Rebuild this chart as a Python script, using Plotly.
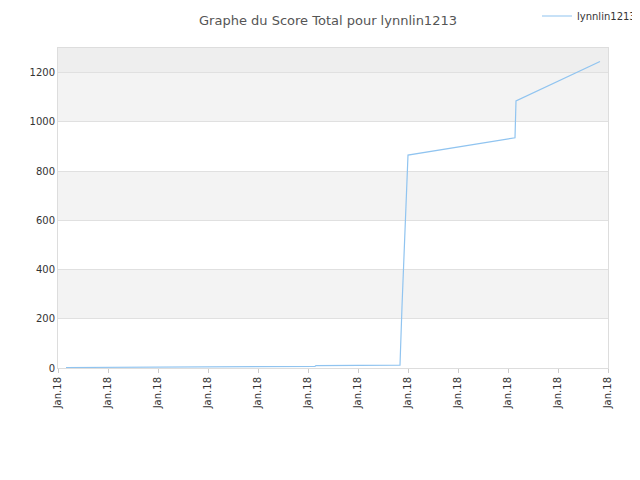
import plotly.graph_objects as go

# positions along the date axis (tick units), scores
x_pos = [0.16, 1.84, 1.86, 5.14, 5.16, 6.80, 6.84, 6.88, 7.00, 9.14, 9.16, 10.84]
score = [2, 3, 6, 7, 10, 11, 12, 250, 865, 935, 1085, 1245]
tick_labels = ["Jan.18"] * 12

fig = go.Figure()
fig.add_trace(go.Scatter(x=x_pos, y=score, mode="lines", name="lynnlin1213",
                         line=dict(color="#90c4f0", width=1.2)))

bands = [(200, 400, "#f3f3f3"), (600, 800, "#f3f3f3"),
         (1000, 1200, "#f3f3f3"), (1200, 1300, "#eeeeee")]
for y0, y1, c in bands:
    fig.add_shape(type="rect", xref="paper", x0=0, x1=1, yref="y", y0=y0, y1=y1,
                  fillcolor=c, line_width=0, layer="below")

fig.update_layout(
    width=640, height=480,
    title=dict(text="Graphe du Score Total pour lynnlin1213", x=0.5, y=0.975,
               yanchor="middle", font=dict(size=13, color="#555")),
    font=dict(family="DejaVu Sans", size=10, color="#333"),
    paper_bgcolor="white", plot_bgcolor="white",
    margin=dict(l=50, r=40, t=40, b=120, autoexpand=False),
    showlegend=True,
    legend=dict(x=1.06, y=1.1, xanchor="right", yanchor="middle",
                font=dict(size=10), bgcolor="rgba(0,0,0,0)"),
    xaxis=dict(range=[0, 11], tickvals=list(range(12)), ticktext=tick_labels,
               tickangle=-90, showgrid=False, zeroline=False, automargin=False,
               showline=True, linecolor="#ddd", ticks="outside", ticklen=4,
               tickcolor="#ccc", mirror=True),
    yaxis=dict(range=[0, 1300], dtick=200, showgrid=True, gridcolor="#e0e0e0",
               zeroline=False, showline=True, linecolor="#ddd", mirror=True,
               automargin=False),
)
fig.write_html("out.html")
